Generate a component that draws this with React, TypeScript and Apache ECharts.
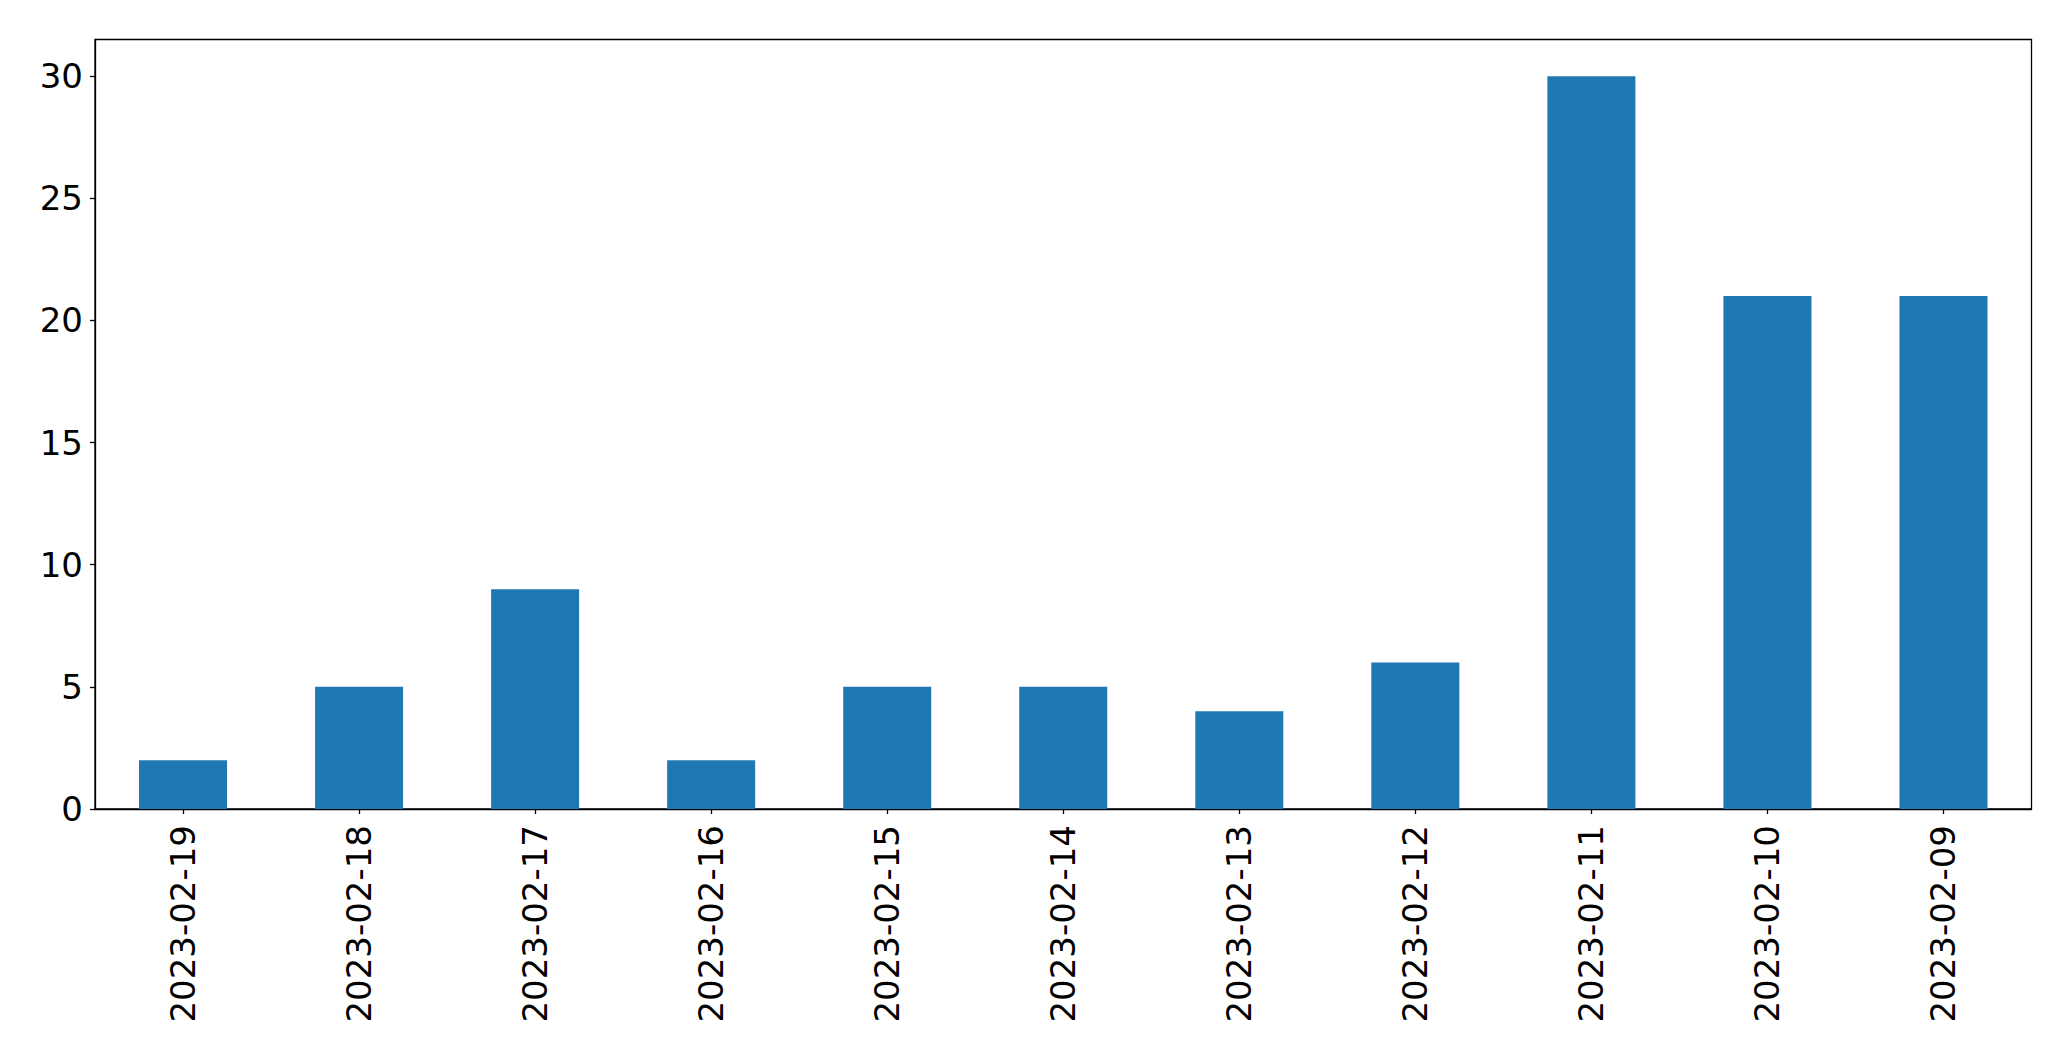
import React, { useEffect, useRef } from "react";
import * as echarts from "echarts";

const categories = [
  "2023-02-19", "2023-02-18", "2023-02-17", "2023-02-16", "2023-02-15", "2023-02-14",
  "2023-02-13", "2023-02-12", "2023-02-11", "2023-02-10", "2023-02-09",
];
const values = [2, 5, 9, 2, 5, 5, 4, 6, 30, 21, 21];
const yTicks = [0, 5, 10, 15, 20, 25, 30];

export default function App() {
  const ref = useRef<HTMLDivElement>(null);
  useEffect(() => {
    document.body.style.margin = "0";
    const chart = echarts.init(ref.current!, null, { renderer: "svg" });
    const font = "DejaVu Sans";
    chart.setOption({
      animation: false,
      backgroundColor: "#ffffff",
      grid: {
        left: 95,
        right: 39.5,
        top: 39.5,
        bottom: 252,
        show: true,
        borderColor: "#000000",
        borderWidth: 1.3,
        backgroundColor: "transparent",
      },
      xAxis: {
        type: "category",
        data: categories,
        boundaryGap: true,
        axisLine: { show: true, lineStyle: { color: "#000", width: 1.3 } },
        axisTick: { show: true, alignWithLabel: true, length: 5, lineStyle: { color: "#000", width: 1.3 } },
        axisLabel: {
          rotate: 90,
          interval: 0,
          margin: 16,
          color: "#000",
          fontFamily: font,
          fontSize: 34,
        },
        splitLine: { show: false },
      },
      yAxis: {
        type: "value",
        min: 0,
        max: 31.5,
        interval: 5,
        axisLine: { show: true, lineStyle: { color: "#000", width: 1.3 } },
        axisTick: { show: true, length: 5, lineStyle: { color: "#000", width: 1.3 }, customValues: yTicks },
        axisLabel: {
          margin: 12,
          color: "#000",
          fontFamily: font,
          fontSize: 34,
          customValues: yTicks,
        },
        splitLine: { show: false },
      },
      series: [
        {
          type: "bar",
          data: values,
          barWidth: "50%",
          itemStyle: { color: "#1f77b4" },
        },
      ],
    });
    return () => chart.dispose();
  }, []);
  return <div ref={ref} style={{ width: 2071, height: 1061 }} />;
}
